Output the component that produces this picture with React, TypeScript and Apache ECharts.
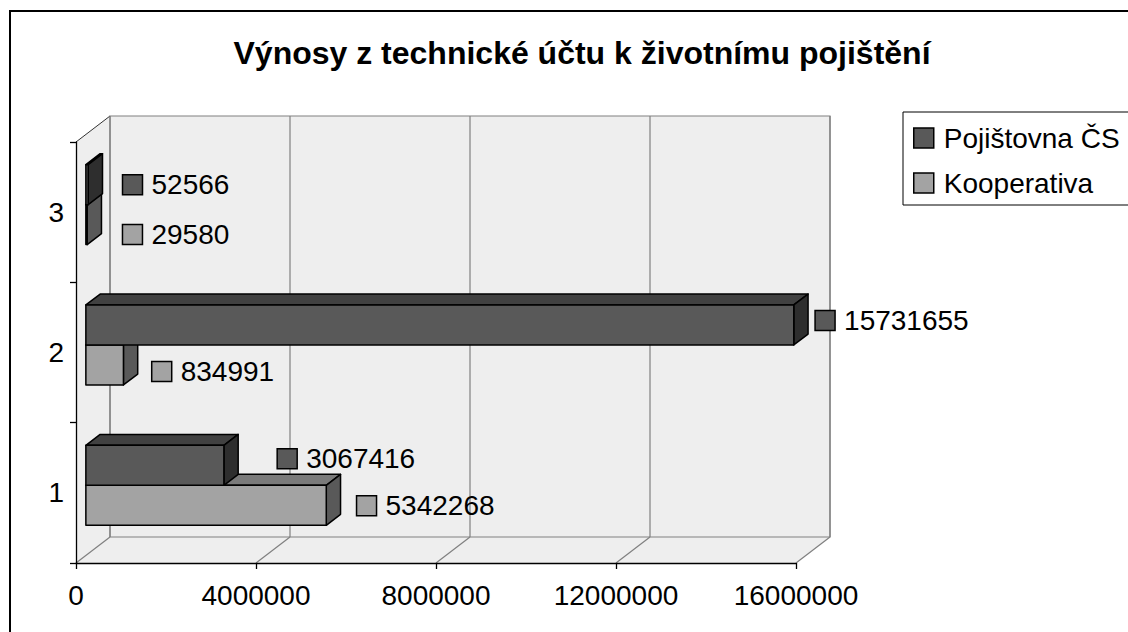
import React, { useEffect, useRef } from "react";
import * as echarts from "echarts";

// ---- data ----
const CATEGORIES = ["1", "2", "3"];
const SERIES_NAMES = ["Pojištovna ČS", "Kooperativa"];
const POJISTOVNA_CS = [3067416, 15731655, 52566];
const KOOPERATIVA = [5342268, 834991, 29580];
const X_TICKS = [0, 4000000, 8000000, 12000000, 16000000];
const TITLE = "Výnosy z technické účtu k životnímu pojištění";

// ---- styles ----
const FONT = "'Liberation Sans', Arial, sans-serif";
const DEPTH_X = 34;
const DEPTH_Y = -26;
const BAR_FRONT = 0.29;
const BAR_BACK = 0.71;
const BAR_FRAC = 0.285;
const WALL_FILL = "#eeeeee";
const GRID_COLOR = "#808080";
const COLORS = {
  pojFront: "#595959",
  pojTop: "#414141",
  pojSide: "#2e2e2e",
  koopFront: "#a3a3a3",
  koopTop: "#7a7a7a",
  koopSide: "#595959",
};
// label nudges (pixels) per series (0 = top bar, 1 = bottom bar) per category
const LABEL_GAP = [
  [39, 7, 20],
  [16, 14, 21],
];
const LABEL_DY = [
  [-6.5, -4.5, 0],
  [0.5, 6.5, 10],
];

function makeBarRenderer(pos: number, front: string, top: string, side: string) {
  return (params: any, api: any) => {
    const v = api.value(0);
    const c = api.value(1);
    const p = api.coord([v, c]);
    const p0 = api.coord([0, c]);
    const band = api.size([0, 1])[1];
    const h = band * BAR_FRAC;
    const fx = DEPTH_X * BAR_FRONT;
    const fy = DEPTH_Y * BAR_FRONT;
    const ddx = DEPTH_X * (BAR_BACK - BAR_FRONT);
    const ddy = DEPTH_Y * (BAR_BACK - BAR_FRONT);
    const yTop0 = pos === 0 ? p[1] - h : p[1];
    const xa = p0[0] + fx;
    const xb = p[0] + fx;
    const yt = yTop0 + fy;
    const yb = yt + h;
    const stroke = { stroke: "#000", lineWidth: 1.5, lineJoin: "round" };
    const idx = params.dataIndex;
    const lx = xb + ddx + LABEL_GAP[pos][idx];
    const ly = (yt + yb) / 2 + LABEL_DY[pos][idx];
    return {
      type: "group",
      children: [
        {
          type: "polygon",
          shape: { points: [[xa, yt], [xb, yt], [xb + ddx, yt + ddy], [xa + ddx, yt + ddy]] },
          style: { fill: top, ...stroke },
        },
        {
          type: "polygon",
          shape: { points: [[xb, yt], [xb + ddx, yt + ddy], [xb + ddx, yb + ddy], [xb, yb]] },
          style: { fill: side, ...stroke },
        },
        {
          type: "rect",
          shape: { x: xa, y: yt, width: Math.max(xb - xa, 0.5), height: h },
          style: { fill: front, ...stroke },
        },
        {
          type: "rect",
          shape: { x: lx, y: ly - 10, width: 20, height: 20 },
          style: { fill: front, stroke: "#000", lineWidth: 1.5 },
        },
        {
          type: "text",
          x: lx + 29,
          y: ly,
          style: {
            text: String(v),
            fill: "#000",
            font: `28px ${FONT}`,
            textAlign: "left",
            textVerticalAlign: "middle",
          },
        },
      ],
    };
  };
}

function renderWalls(params: any, api: any) {
  const cs = params.coordSys;
  const L = cs.x;
  const T = cs.y;
  const R = cs.x + cs.width;
  const B = cs.y + cs.height;
  const dx = DEPTH_X;
  const dy = DEPTH_Y;
  const children: any[] = [
    {
      type: "polygon",
      shape: { points: [[L, T], [L + dx, T + dy], [L + dx, B + dy], [L, B]] },
      style: { fill: WALL_FILL },
    },
    {
      type: "polygon",
      shape: { points: [[L, B], [L + dx, B + dy], [R + dx, B + dy], [R, B]] },
      style: { fill: WALL_FILL },
    },
    {
      type: "rect",
      shape: { x: L + dx, y: T + dy, width: cs.width, height: cs.height },
      style: { fill: WALL_FILL, stroke: GRID_COLOR, lineWidth: 1.2 },
    },
    {
      type: "line",
      shape: { x1: L, y1: T, x2: L + dx, y2: T + dy },
      style: { stroke: "#333", lineWidth: 1 },
    },
  ];
  X_TICKS.forEach((t) => {
    const x = api.coord([t, 0])[0];
    children.push({
      type: "line",
      shape: { x1: x + dx, y1: T + dy, x2: x + dx, y2: B + dy },
      style: { stroke: GRID_COLOR, lineWidth: 1.2 },
    });
    children.push({
      type: "line",
      shape: { x1: x, y1: B, x2: x + dx, y2: B + dy },
      style: { stroke: GRID_COLOR, lineWidth: 1.2 },
    });
  });
  return { type: "group", children };
}

export default function App() {
  const ref = useRef<HTMLDivElement>(null);
  useEffect(() => {
    if (!ref.current) return;
    const chart = echarts.init(ref.current, undefined, { renderer: "svg" });
    const pojData = POJISTOVNA_CS.map((v, i) => [v, i]);
    const koopData = KOOPERATIVA.map((v, i) => [v, i]);
    chart.setOption({
      animation: false,
      backgroundColor: "#ffffff",
      textStyle: { fontFamily: FONT },
      graphic: [
        {
          type: "rect",
          shape: { x: 10, y: 11, width: 2000, height: 2000 },
          style: { fill: "none", stroke: "#000", lineWidth: 2 },
          z: 100,
          silent: true,
        },
        {
          type: "text",
          x: 582,
          y: 53,
          style: {
            text: TITLE,
            font: `bold 32px ${FONT}`,
            fill: "#000",
            textAlign: "center",
            textVerticalAlign: "middle",
          },
        },
      ],
      legend: {
        orient: "vertical",
        left: 903,
        top: 112,
        padding: [11, 40, 7, 10],
        itemGap: 15,
        itemWidth: 20,
        itemHeight: 20,
        icon: "rect",
        borderColor: "#000",
        borderWidth: 1,
        backgroundColor: "#fff",
        textStyle: {
          fontSize: 28,
          fontFamily: FONT,
          color: "#000",
          lineHeight: 30,
          padding: [0, 0, 0, 5],
        },
        data: [
          {
            name: SERIES_NAMES[0],
            itemStyle: { color: COLORS.pojFront, borderColor: "#000", borderWidth: 1.5 },
          },
          {
            name: SERIES_NAMES[1],
            itemStyle: { color: COLORS.koopFront, borderColor: "#000", borderWidth: 1.5 },
          },
        ],
      },
      grid: { left: 76, top: 142, width: 720, height: 421, containLabel: false },
      xAxis: {
        type: "value",
        min: 0,
        max: 16000000,
        interval: 4000000,
        z: 10,
        axisLine: { show: true, lineStyle: { color: "#000", width: 1.3 } },
        axisTick: { show: true, length: 6, lineStyle: { color: "#000", width: 1.3 } },
        splitLine: { show: false },
        axisLabel: {
          fontSize: 28,
          color: "#000",
          fontFamily: FONT,
          margin: 18,
          formatter: (v: number) => String(v),
        },
      },
      yAxis: {
        type: "category",
        data: CATEGORIES,
        z: 10,
        axisLine: { show: true, lineStyle: { color: "#000", width: 1.3 } },
        axisTick: { show: true, length: 6, lineStyle: { color: "#000", width: 1.3 } },
        splitLine: { show: false },
        axisLabel: { fontSize: 28, color: "#000", fontFamily: FONT, margin: 12 },
      },
      series: [
        {
          type: "custom",
          name: "walls",
          silent: true,
          z: 1,
          data: [[0, 0]],
          encode: { x: 0, y: 1 },
          renderItem: renderWalls,
        },
        {
          type: "custom",
          name: SERIES_NAMES[1],
          z: 3,
          itemStyle: { color: COLORS.koopFront },
          data: koopData,
          encode: { x: 0, y: 1 },
          renderItem: makeBarRenderer(1, COLORS.koopFront, COLORS.koopTop, COLORS.koopSide),
        },
        {
          type: "custom",
          name: SERIES_NAMES[0],
          z: 4,
          itemStyle: { color: COLORS.pojFront },
          data: pojData,
          encode: { x: 0, y: 1 },
          renderItem: makeBarRenderer(0, COLORS.pojFront, COLORS.pojTop, COLORS.pojSide),
        },
      ],
    });
    return () => chart.dispose();
  }, []);
  return (
    <div
      ref={ref}
      style={{ position: "fixed", left: 0, top: 0, width: 1128, height: 632, background: "#fff" }}
    />
  );
}
